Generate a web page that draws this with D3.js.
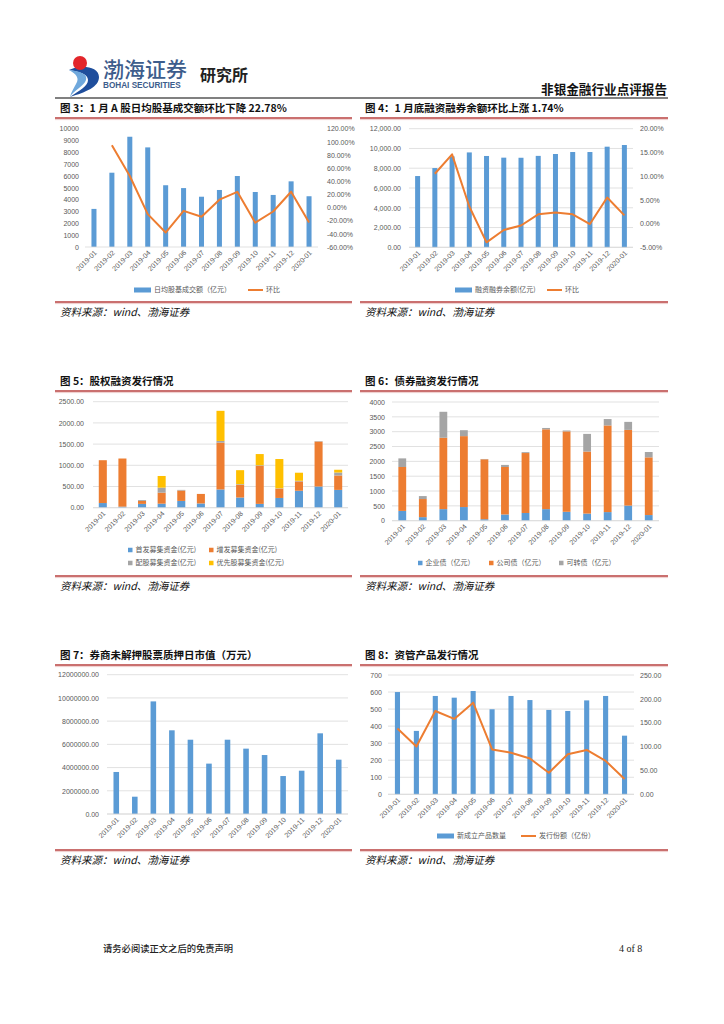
<!DOCTYPE html>
<html><head><meta charset="utf-8">
<script src="https://cdn.jsdelivr.net/npm/d3@7"></script>
<style>body{margin:0;background:#fff}svg{display:block}</style>
</head><body><svg id="page" width="724" height="1024"></svg>
<script>
// ---------- DATA ----------
const months = ["2019-01","2019-02","2019-03","2019-04","2019-05","2019-06","2019-07","2019-08","2019-09","2019-10","2019-11","2019-12","2020-01"];

// Fig 3
const turnover = [3220, 6280, 9320, 8420, 5220, 4980, 4250, 4820, 6000, 4650, 4400, 5550, 4290];
const turnoverMoM = [null, 95, 48, -10, -38, -5, -14, 12, 24, -23, -6, 24, -22.78];
const turnoverTicks = [0,1000,2000,3000,4000,5000,6000,7000,8000,9000,10000];
const turnoverPctTicks = [-60,-40,-20,0,20,40,60,80,100,120];

// Fig 4
const marginBal = [7210, 8020, 9200, 9600, 9240, 9070, 9060, 9250, 9440, 9640, 9640, 10180, 10350];
const marginMoM = [null, 10.5, 14.6, 3.6, -3.95, -1.35, -0.4, 1.95, 2.35, 1.95, -0.1, 5.5, 1.74];
const marginTicks = [0,2000,4000,6000,8000,10000,12000];
const marginPctTicks = [-5,0,5,10,15,20];

// Fig 5 (equity financing, 亿元)
const ipoFund    = [110, 25, 90, 95, 160, 100, 430, 240, 90, 230, 400, 500, 420];
const seoFund    = [1010, 1135, 70, 260, 245, 225, 1105, 300, 895, 220, 220, 1060, 340];
const rightsFund = [0, 0, 20, 118, 15, 0, 40, 15, 15, 8, 15, 10, 70];
const prefFund   = [0, 0, 0, 275, 0, 0, 710, 330, 265, 690, 190, 0, 65];
const equityTicks = [0,500,1000,1500,2000,2500];

// Fig 6 (bond financing, 亿元)
const entBond  = [330, 120, 390, 460, 50, 210, 260, 390, 300, 240, 290, 510, 190];
const corpBond = [1480, 610, 2405, 2390, 2020, 1600, 2020, 2690, 2710, 2090, 2920, 2550, 1945];
const convBond = [290, 100, 875, 200, 10, 70, 30, 45, 30, 595, 215, 270, 180];
const bondTicks = [0,500,1000,1500,2000,2500,3000,3500,4000];

// Fig 7 (万元)
const pledgeValue = [3620000, 1490000, 9700000, 7210000, 6400000, 4340000, 6400000, 5630000, 5080000, 3270000, 3730000, 6950000, 4680000];
const pledgeTicks = [0,2000000,4000000,6000000,8000000,10000000,12000000];

// Fig 8
const amProducts = [600, 372, 577, 567, 606, 499, 577, 553, 495, 489, 551, 577, 344];
const amShares   = [138, 100, 174.6, 158, 192, 94, 87, 75, 45, 84, 93, 70, 32];
const amCountTicks = [0,100,200,300,400,500,600,700];
const amShareTicks = [0,50,100,150,200,250];

// ---------- STYLE ----------
const BLUE = "#5b9bd5", ORANGE = "#ed7d31", GRAY = "#a5a5a5", YELLOW = "#ffc000";
const RED = "#b8403f", TXT = "#595959", GRID = "#d9d9d9";
const LAT = "'Liberation Sans', Arial, sans-serif";
const CJK = "'Noto Sans CJK SC', 'Noto Sans', sans-serif";

const svg = d3.select("#page");

// ---------- HEADER ----------
const hdr = svg.append("g");
hdr.append("path").attr("d","M69,70 C80,64 99,66 99,77 C99,87 86,92 70,97 C80,90 88,86 88,80 C88,74 80,72 69,70 Z").attr("fill","#1f4e9c");
hdr.append("path").attr("d","M69,70 C76,74 80,78 76,84 C74,88 71,92 70,97 C74,90 84,86 86,80 C88,74 80,71 69,70 Z").attr("fill","#6fa8dc");
hdr.append("circle").attr("cx",80).attr("cy",63).attr("r",7).attr("fill","#e3262b");
hdr.append("text").attr("x",103).attr("y",77).attr("font-family",CJK).attr("font-size",21).attr("font-weight",500).attr("fill","#3d5d8c").text("渤海证券");
hdr.append("text").attr("x",103).attr("y",88).attr("font-family",LAT).attr("font-size",8.2).attr("font-weight",700).attr("fill","#3d5d8c").text("BOHAI SECURITIES");
hdr.append("text").attr("x",200).attr("y",81).attr("font-family",CJK).attr("font-size",16).attr("font-weight",700).attr("fill","#222").text("研究所");
hdr.append("text").attr("x",667).attr("y",94).attr("text-anchor","end").attr("font-family",CJK).attr("font-size",12.6).attr("font-weight",700).attr("fill","#111").text("非银金融行业点评报告");
hdr.append("line").attr("x1",55).attr("x2",668).attr("y1",98).attr("y2",98).attr("stroke","#808080").attr("stroke-width",2);

// footer
svg.append("text").attr("x",103).attr("y",952).attr("font-family",CJK).attr("font-size",9.3).attr("font-weight",500).attr("fill","#222").text("请务必阅读正文之后的免责声明");
svg.append("text").attr("x",619).attr("y",952).attr("font-family","'Liberation Serif', serif").attr("font-size",10).attr("fill","#222").text("4 of 8");

// ---------- HELPERS ----------
function frame(x0, x1, titleY, title, lineTop, lineBottom, srcY) {
  const g = svg.append("g");
  g.append("text").attr("x", x0 + 5).attr("y", titleY).attr("font-family", CJK).attr("font-size", 10.5)
    .attr("font-weight", 700).attr("fill", "#111").text(title);
  [lineTop, lineBottom].forEach(y => {
    g.append("line").attr("x1", x0).attr("x2", x1).attr("y1", y).attr("y2", y).attr("stroke", RED).attr("stroke-width", 1.6);
    g.append("line").attr("x1", x0).attr("x2", x1).attr("y1", y + 1.6).attr("y2", y + 1.6).attr("stroke", "#e2a9a8").attr("stroke-width", 0.6);
  });
  g.append("text").attr("x", x0 + 5).attr("y", srcY).attr("font-family", CJK).attr("font-size", 10.5)
    .attr("font-style", "italic").attr("fill", "#111").text("资料来源：wind、渤海证券");
}

function bandScale(x0, x1, pi) {
  return d3.scaleBand().domain(months).range([x0, x1]).paddingInner(pi).paddingOuter(pi / 2);
}

function styleAxis(sel) {
  sel.select(".domain").remove();
  sel.selectAll("line").remove();
  sel.selectAll("text").attr("font-family", LAT).attr("font-size", 7).attr("fill", TXT);
}

function leftAxis(y, ticks, fmt, xPos, grid) {
  if (grid) {
    svg.append("g").selectAll("line").data(ticks).join("line")
      .attr("x1", grid[0]).attr("x2", grid[1]).attr("y1", d => y(d)).attr("y2", d => y(d))
      .attr("stroke", GRID).attr("stroke-width", 0.8);
  }
  const g = svg.append("g").attr("transform", `translate(${xPos},0)`)
    .call(d3.axisLeft(y).tickValues(ticks).tickFormat(fmt).tickSize(0).tickPadding(0));
  styleAxis(g);
}

function rightAxis(y, ticks, fmt, xPos) {
  const g = svg.append("g").attr("transform", `translate(${xPos},0)`)
    .call(d3.axisRight(y).tickValues(ticks).tickFormat(fmt).tickSize(0).tickPadding(0));
  styleAxis(g);
}

function bottomAxis(x, yPos, range) {
  svg.append("line").attr("x1", range[0]).attr("x2", range[1]).attr("y1", yPos).attr("y2", yPos)
    .attr("stroke", GRID).attr("stroke-width", 0.8);
  const g = svg.append("g").attr("transform", `translate(0,${yPos})`)
    .call(d3.axisBottom(x).tickSize(0).tickPadding(0));
  styleAxis(g);
  g.selectAll("text").attr("text-anchor", "end").attr("dy", null)
    .attr("transform", "translate(2,5) rotate(-45)").attr("dominant-baseline", "middle");
}

function bars(x, y, values, color) {
  svg.append("g").selectAll("rect").data(values).join("rect")
    .attr("x", (d, i) => x(months[i])).attr("width", x.bandwidth())
    .attr("y", d => y(d)).attr("height", d => y(0) - y(d)).attr("fill", color);
}

function line(x, y, values, color) {
  const gen = d3.line().defined(d => d != null)
    .x((d, i) => x(months[i]) + x.bandwidth() / 2).y(d => y(d));
  svg.append("path").datum(values).attr("d", gen).attr("fill", "none")
    .attr("stroke", color).attr("stroke-width", 2).attr("stroke-linejoin", "round");
}

function stacked(x, y, keys, arrays, colors) {
  const rows = months.map((m, i) => { const o = { m }; keys.forEach((k, j) => o[k] = arrays[j][i]); return o; });
  const series = d3.stack().keys(keys)(rows);
  svg.append("g").selectAll("g").data(series).join("g").attr("fill", (d, i) => colors[i])
    .selectAll("rect").data(d => d).join("rect")
    .attr("x", d => x(d.data.m)).attr("width", x.bandwidth())
    .attr("y", d => y(d[1])).attr("height", d => y(d[0]) - y(d[1]));
}

function legendText(x, y, t) {
  svg.append("text").attr("x", x).attr("y", y).attr("dominant-baseline", "middle")
    .attr("font-family", CJK).attr("font-size", 7).attr("fill", TXT).text(t);
}
function legRect(x, y, w, h, color, t) {
  svg.append("rect").attr("x", x).attr("y", y - h / 2).attr("width", w).attr("height", h).attr("fill", color);
  legendText(x + w + 3, y, t);
}
function legLine(x, y, w, color, t) {
  svg.append("line").attr("x1", x).attr("x2", x + w).attr("y1", y).attr("y2", y).attr("stroke", color).attr("stroke-width", 2);
  legendText(x + w + 3, y, t);
}

const pct = d => d.toFixed(2) + "%";
const f2 = d3.format(".2f");

// ---------- FIG 3 ----------
frame(55, 352, 112, "图 3：1 月 A 股日均股基成交额环比下降 22.78%", 118, 302, 316);
{
  const x = bandScale(85, 318, 0.72);
  const y = d3.scaleLinear().domain([0, 10000]).range([247, 128.7]);
  const y2 = d3.scaleLinear().domain([-60, 120]).range([247, 128.7]);
  leftAxis(y, turnoverTicks, d3.format("d"), 79, null);
  rightAxis(y2, turnoverPctTicks, pct, 327);
  bars(x, y, turnover, BLUE);
  bottomAxis(x, 247, [85, 318]);
  line(x, y2, turnoverMoM, ORANGE);
  legRect(134, 290, 17, 5, BLUE, "日均股基成交额（亿元）");
  legLine(248, 290, 15, ORANGE, "环比");
}

// ---------- FIG 4 ----------
frame(360, 668, 112, "图 4：1 月底融资融券余额环比上涨 1.74%", 118, 302, 316);
{
  const x = bandScale(409, 633, 0.71);
  const y = d3.scaleLinear().domain([0, 12000]).range([247.3, 128.7]);
  const y2 = d3.scaleLinear().domain([-5, 20]).range([247.3, 128.7]);
  leftAxis(y, marginTicks, d3.format(",.2f"), 401, [409, 633]);
  rightAxis(y2, marginPctTicks, pct, 640);
  bars(x, y, marginBal, BLUE);
  line(x, y2, marginMoM, ORANGE);
  bottomAxis(x, 247.3, [409, 633]);
  legRect(455, 290, 17, 5, BLUE, "融资融券余额(亿元)");
  legLine(547, 290, 15, ORANGE, "环比");
}

// ---------- FIG 5 ----------
frame(55, 352, 385, "图 5：股权融资发行情况", 391, 576, 590);
{
  const x = bandScale(93, 348, 0.59);
  const y = d3.scaleLinear().domain([0, 2500]).range([507.7, 401.7]);
  leftAxis(y, equityTicks, f2, 84, [93, 348]);
  stacked(x, y, ["ipo", "seo", "rights", "pref"], [ipoFund, seoFund, rightsFund, prefFund], [BLUE, ORANGE, GRAY, YELLOW]);
  bottomAxis(x, 507.7, [93, 348]);
  legRect(128, 550, 4.5, 4.5, BLUE, "首发募集资金(亿元)");
  legRect(209, 550, 4.5, 4.5, ORANGE, "增发募集资金(亿元)");
  legRect(128, 563, 4.5, 4.5, GRAY, "配股募集资金(亿元)");
  legRect(209, 563, 4.5, 4.5, YELLOW, "优先股募集资金(亿元)");
}

// ---------- FIG 6 ----------
frame(360, 668, 385, "图 6：债券融资发行情况", 391, 576, 590);
{
  const x = bandScale(392, 659, 0.62);
  const y = d3.scaleLinear().domain([0, 4000]).range([520.7, 402]);
  leftAxis(y, bondTicks, d3.format("d"), 385, [392, 659]);
  stacked(x, y, ["ent", "corp", "conv"], [entBond, corpBond, convBond], [BLUE, ORANGE, GRAY]);
  bottomAxis(x, 520.7, [392, 659]);
  legRect(418, 563, 4.5, 4.5, BLUE, "企业债（亿元）");
  legRect(489, 563, 4.5, 4.5, ORANGE, "公司债（亿元）");
  legRect(559, 563, 4.5, 4.5, GRAY, "可转债（亿元）");
}

// ---------- FIG 7 ----------
frame(55, 352, 659, "图 7：券商未解押股票质押日市值（万元）", 665, 850, 864);
{
  const x = bandScale(107, 348, 0.70);
  const y = d3.scaleLinear().domain([0, 12000000]).range([814, 674.7]);
  leftAxis(y, pledgeTicks, f2, 99, [107, 348]);
  bars(x, y, pledgeValue, BLUE);
  bottomAxis(x, 814, [107, 348]);
}

// ---------- FIG 8 ----------
frame(360, 668, 659, "图 8：资管产品发行情况", 665, 850, 864);
{
  const x = bandScale(388, 634, 0.73);
  const y = d3.scaleLinear().domain([0, 700]).range([794.3, 675]);
  const y2 = d3.scaleLinear().domain([0, 250]).range([794.3, 675]);
  leftAxis(y, amCountTicks, d3.format("d"), 382, [388, 634]);
  rightAxis(y2, amShareTicks, f2, 640);
  bars(x, y, amProducts, BLUE);
  line(x, y2, amShares, ORANGE);
  bottomAxis(x, 794.3, [388, 634]);
  legRect(437, 836, 17, 5, BLUE, "新成立产品数量");
  legLine(521, 836, 15, ORANGE, "发行份额（亿份）");
}
</script></body></html>
